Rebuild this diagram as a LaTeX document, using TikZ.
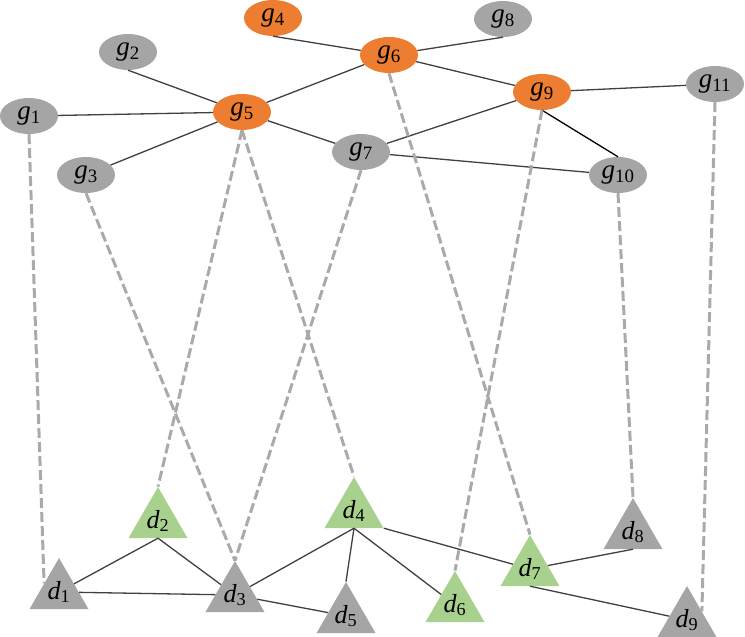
\documentclass[tikz,border=0pt]{standalone}
\usepackage{fontspec}
\setmainfont{Liberation Serif}
\usetikzlibrary{shapes,shapes.geometric,positioning}
\definecolor{gorange}{RGB}{237,125,49}
\definecolor{ggray}{RGB}{165,165,165}
\definecolor{dgreen}{RGB}{169,209,142}
\definecolor{linkgray}{RGB}{64,64,64}
\definecolor{dashgray}{RGB}{170,170,170}
\newcommand{\gl}[1]{\textit{g}\textsubscript{#1}}
\newcommand{\dl}[1]{\textit{d}\textsubscript{#1}}

\begin{document}
\begin{tikzpicture}[x=1pt, y=-1pt,
    gnode/.style={ellipse, minimum width=58pt, minimum height=36pt, inner sep=0pt,
                  fill=ggray, font=\fontsize{27}{29}\selectfont},
    dnode/.style={regular polygon, regular polygon sides=3, minimum size=68pt, inner sep=0pt,
                  fill=ggray, font=\fontsize{26}{28}\selectfont},
    link/.style={draw=linkgray, line width=1.3pt},
    dashlink/.style={draw=dashgray, line width=3pt, dash pattern=on 10pt off 4pt}
]
\useasboundingbox (0,0) rectangle (745,637);

% Upper layer
\node[gnode, fill=gorange] (g4) at (273,18) {\gl{4}};
\node[gnode] (g8) at (503,19) {\gl{8}};
\node[gnode] (g2) at (128,52) {\gl{2}};
\node[gnode, fill=gorange] (g6) at (389,55) {\gl{6}};
\node[gnode, fill=gorange] (g9) at (542,92) {\gl{9}};
\node[gnode] (g11) at (715,84) {\gl{11}};
\node[gnode] (g1) at (29,116) {\gl{1}};
\node[gnode, fill=gorange] (g5) at (242,112) {\gl{5}};
\node[gnode] (g7) at (361,152) {\gl{7}};
\node[gnode] (g3) at (86,175) {\gl{3}};
\node[gnode] (g10) at (618,175) {\gl{10}};

% Lower layer
\node[dnode] (d1) at (59,592) {\dl{1}};
\node[dnode, fill=dgreen] (d2) at (158,521) {\dl{2}};
\node[dnode] (d3) at (235,595) {\dl{3}};
\node[dnode, fill=dgreen] (d4) at (354,511) {\dl{4}};
\node[dnode] (d5) at (346,616) {\dl{5}};
\node[dnode, fill=dgreen] (d6) at (455,605) {\dl{6}};
\node[dnode, fill=dgreen] (d7) at (530,569) {\dl{7}};
\node[dnode] (d8) at (633,532) {\dl{8}};
\node[dnode] (d9) at (687,620) {\dl{9}};

% Links between g nodes
\draw[link] (g4.south) -- (g6);
\draw[link] (g8.south) -- (g6);
\draw[link] (g2.south) -- (g5);
\draw[link] (g1) -- (g5);
\draw[link] (g3) -- (g5);
\draw[link] (g5) -- (g6);
\draw[link] (g5) -- (g7);
\draw[link] (g6) -- (g9);
\draw[link] (g9) -- (g11);
\draw[link] (g9) -- (g7);
\draw[link] (g7) -- (g10);
\draw[link, draw=black] (g9.south) -- (g10.north);

% Links between d nodes
\draw[link] (d1) -- (d2.south);
\draw[link] (d2.south) -- (d3);
\draw[link] (d1) -- (d3);
\draw[link] (d3) -- (d4.south);
\draw[link] (d3) -- (d5);
\draw[link] (d4.south) -- (d5.north);
\draw[link] (d4.south) -- (d6);
\draw[link] (d4.corner 3) -- (d7);
\draw[link] (d7) -- (d8.south);
\draw[link] (d7.south) -- (d9);

% Mapping links
\draw[dashlink] (g1.south) -- (d1.side 1);
\draw[dashlink] (g5.south) -- (d2.north);
\draw[dashlink] (g5.south) -- (d4.north);
\draw[dashlink] (g3.south) -- (d3.north);
\draw[dashlink] (g7.south) -- (d3.north);
\draw[dashlink] (g6.south) -- (d7.north);
\draw[dashlink] (g9.south) -- (d6.north);
\draw[dashlink] (g10.south) -- (d8.north);
\draw[dashlink] (g11.south) -- (d9.side 3);

\end{tikzpicture}
\end{document}
